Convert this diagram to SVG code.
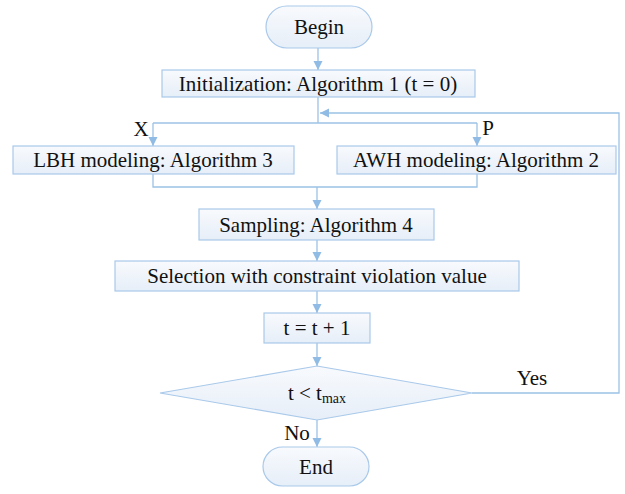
<svg xmlns="http://www.w3.org/2000/svg" width="625" height="494" viewBox="0 0 625 494">
<defs>
<linearGradient id="fill" x1="0" y1="0" x2="0" y2="1">
<stop offset="0" stop-color="#f8fafd"/>
<stop offset="1" stop-color="#e6eef8"/>
</linearGradient>
<marker id="arr" markerWidth="10" markerHeight="10" refX="9" refY="5" orient="auto" markerUnits="userSpaceOnUse">
<path d="M0,0.5 L9,5 L0,9.5 Z" fill="#8fbbe4"/>
</marker>
<style>
.box{fill:url(#fill);stroke:#a9c9ea;stroke-width:1.2}
.t{font-family:'Liberation Serif','Times New Roman','DejaVu Serif',serif;font-size:21px;fill:#111;text-anchor:middle}
.c{fill:none;stroke:#9cc2e6;stroke-width:1.3}
.a{marker-end:url(#arr)}
</style>
</defs>
<rect width="625" height="494" fill="#fff"/>
<g id="connectors">
<path class="c a" d="M318,48 V70"/>
<path class="c" d="M318,97 V123"/>
<path class="c" d="M153,123 H477"/>
<path class="c a" d="M153,123 V146"/>
<path class="c a" d="M477,123 V146"/>
<path class="c a" d="M472,393 H619 V113 H320"/>
<path class="c" d="M153,174 V187 H477 V174"/>
<path class="c a" d="M317,187 V209"/>
<path class="c a" d="M317,240 V261"/>
<path class="c a" d="M317,291 V313"/>
<path class="c a" d="M317,343 V366"/>
<path class="c a" d="M317,420 V447"/>
</g>
<g id="begin">
<rect class="box" x="266" y="6" width="106" height="42" rx="21"/>
<text class="t" x="319" y="34">Begin</text>
</g>
<g id="init">
<rect class="box" x="162" y="70" width="313" height="27"/>
<text class="t" x="318" y="91">Initialization: Algorithm 1 (t = 0)</text>
</g>
<g id="lbh">
<rect class="box" x="13" y="146" width="281" height="28"/>
<text class="t" x="153" y="167">LBH modeling: Algorithm 3</text>
</g>
<g id="awh">
<rect class="box" x="337" y="146" width="279" height="28"/>
<text class="t" x="476" y="167">AWH modeling: Algorithm 2</text>
</g>
<g id="sampling">
<rect class="box" x="199" y="209" width="235" height="31"/>
<text class="t" x="316" y="232">Sampling: Algorithm 4</text>
</g>
<g id="selection">
<rect class="box" x="115" y="261" width="404" height="30"/>
<text class="t" x="317" y="283">Selection with constraint violation value</text>
</g>
<g id="inc">
<rect class="box" x="264" y="313" width="106" height="30"/>
<text class="t" x="317" y="335">t = t + 1</text>
</g>
<g id="decision">
<polygon class="box" points="317,366 472,393 317,420 160,393"/>
<text class="t" x="317" y="400">t &lt; t<tspan font-size="14" dy="3">max</tspan></text>
</g>
<g id="end">
<rect class="box" x="263" y="447" width="106" height="39" rx="19.5"/>
<text class="t" x="316" y="474">End</text>
</g>
<g id="labels">
<text class="t" x="141" y="136">X</text>
<text class="t" x="488" y="135">P</text>
<text class="t" x="532" y="385">Yes</text>
<text class="t" x="297" y="440">No</text>
</g>
</svg>
